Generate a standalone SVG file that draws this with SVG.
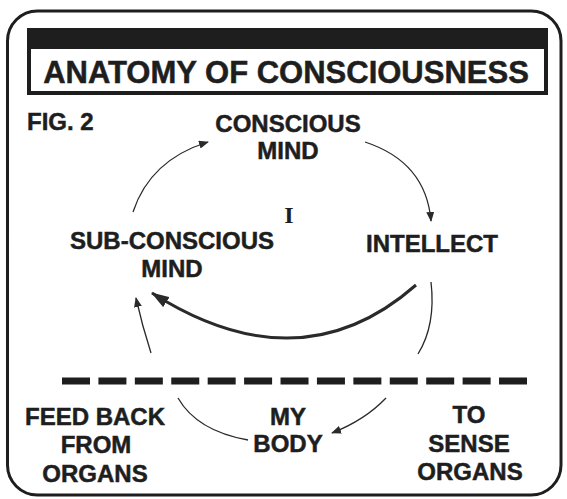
<svg xmlns="http://www.w3.org/2000/svg" width="567" height="499" viewBox="0 0 567 499">
  <defs>
    <style>
      .lbl { font-family: "Liberation Sans", Arial, sans-serif; font-weight: bold; font-size: 24px; fill: #1e1e1e; stroke: #1e1e1e; stroke-width: 0.5; text-anchor: middle; }
      .thin { fill: none; stroke: #2a2a2a; stroke-width: 1.3; }
      .thick { fill: none; stroke: #2a2a2a; stroke-width: 3; }
    </style>
    <marker id="ah" markerUnits="userSpaceOnUse" markerWidth="10" markerHeight="8" viewBox="0 0 10 8" refX="9" refY="4" orient="auto">
      <path d="M0,0 L10,4 L0,8 Z" fill="#2a2a2a"/>
    </marker>
    <marker id="ahBig" markerUnits="userSpaceOnUse" markerWidth="18" markerHeight="12" viewBox="0 0 18 12" refX="17" refY="6" orient="auto">
      <path d="M0,0 L18,6 L0,12 Z" fill="#2a2a2a"/>
    </marker>
  </defs>

  <rect width="567" height="499" fill="#ffffff"/>
  <rect id="frame" x="7.5" y="11" width="553.5" height="484" rx="30" ry="30" fill="none" stroke="#1e1e1e" stroke-width="3"/>

  <g id="title">
    <rect x="27" y="28" width="521" height="19" fill="#1e1e1e"/>
    <rect x="29" y="47" width="517" height="46" fill="none" stroke="#1e1e1e" stroke-width="4"/>
    <text x="286" y="83" class="lbl" style="font-size:31px">ANATOMY OF CONSCIOUSNESS</text>
  </g>

  <g id="fig-label">
    <text x="27" y="130" class="lbl" style="text-anchor:start">FIG. 2</text>
  </g>

  <g id="conscious-mind">
    <text x="288" y="132" class="lbl">CONSCIOUS</text>
    <text x="288" y="159" class="lbl">MIND</text>
  </g>

  <g id="self-i">
    <text x="289" y="223" style="font-family:'Liberation Serif','Times New Roman',serif;font-weight:bold;font-size:24px;fill:#1e1e1e;text-anchor:middle">I</text>
  </g>

  <g id="subconscious-mind">
    <text x="172" y="249" class="lbl">SUB-CONSCIOUS</text>
    <text x="172" y="277" class="lbl">MIND</text>
  </g>

  <g id="intellect">
    <text x="432" y="252" class="lbl">INTELLECT</text>
  </g>

  <g id="feed-back">
    <text x="95" y="425" class="lbl">FEED BACK</text>
    <text x="96" y="453" class="lbl">FROM</text>
    <text x="95" y="482" class="lbl">ORGANS</text>
  </g>

  <g id="my-body">
    <text x="288" y="425" class="lbl">MY</text>
    <text x="288" y="452" class="lbl">BODY</text>
  </g>

  <g id="sense-organs">
    <text x="469" y="423" class="lbl">TO</text>
    <text x="469" y="452" class="lbl">SENSE</text>
    <text x="470" y="480" class="lbl">ORGANS</text>
  </g>

  <g id="divider">
    <line x1="62" y1="381" x2="527" y2="381" stroke="#1e1e1e" stroke-width="7" stroke-dasharray="28 8.42"/>
  </g>

  <g id="connectors">
    <path class="thin" d="M133,212 Q150,160 208,142" marker-end="url(#ah)"/>
    <path class="thin" d="M365,142 Q426,162 431,221" marker-end="url(#ah)"/>
    <path class="thick" d="M416,285 Q300,387 152,293" marker-end="url(#ahBig)"/>
    <path class="thin" d="M431,282 Q436,325 418,354"/>
    <path class="thin" d="M151,353 Q142,325 136,298" marker-end="url(#ah)"/>
    <path class="thin" d="M178,398 Q197,431 248,440"/>
    <path class="thin" d="M386,398 Q365,420 332,433" marker-end="url(#ah)"/>
  </g>
</svg>
